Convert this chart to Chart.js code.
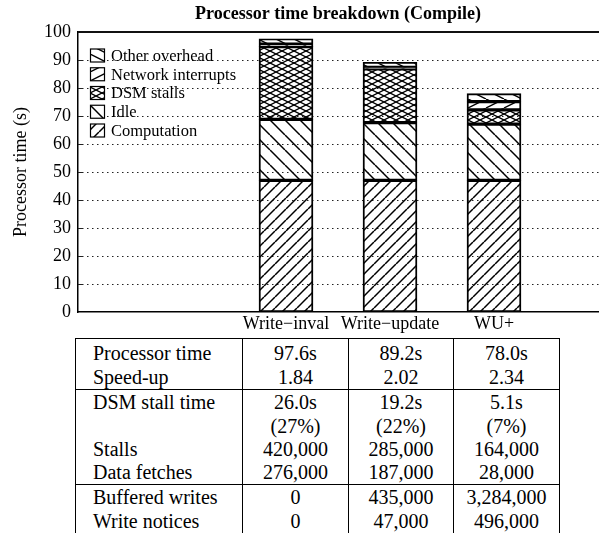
<!DOCTYPE html>
<html><head><meta charset="utf-8">
<script src="https://cdn.jsdelivr.net/npm/chart.js@4.4.0/dist/chart.umd.min.js"></script>
<style>
html,body{margin:0;padding:0;background:#fff;}
#wrap{position:relative;width:599px;height:542px;overflow:hidden;background:#fff;}
#c{position:absolute;left:0;top:0;}
#tbl{position:absolute;left:75px;top:338px;border-collapse:collapse;table-layout:fixed;width:484px;
 font-family:"Liberation Serif","Times New Roman",serif;font-size:20px;color:#000;}
#tbl td{padding:0;line-height:24px;text-align:center;border-left:1px solid #000;border-right:1px solid #000;white-space:nowrap;}
#tbl td.lab{text-align:left;padding-left:17px;}
#tbl tr.gstart td{border-top:1px solid #000;}
#tbl tr.first td{padding-top:2px;}
#tbl tr.tight td{line-height:23px;}
</style>
</head><body>
<div id="wrap">
<canvas id="c" width="599" height="338"></canvas>
<table id="tbl"><colgroup><col style="width:167px"><col style="width:106px"><col style="width:105px"><col style="width:106px"></colgroup><tbody id="tb"></tbody></table>
</div>
<script>
// ---- chart data ----
const categories = ['Write\u2212inval', 'Write\u2212update', 'WU+'];
const computation       = [47.0, 47.0, 47.0];
const idle              = [21.8, 20.6, 20.1];
const dsmStalls         = [26.0, 19.2, 5.1];
const networkInterrupts = [0.9, 0.6, 2.9];
const otherOverhead     = [1.9, 1.8, 2.9];
const yTicks = [0, 10, 20, 30, 40, 50, 60, 70, 80, 90, 100];

// ---- table data ----
const processorTime  = ['97.6s', '89.2s', '78.0s'];
const speedUp        = ['1.84', '2.02', '2.34'];
const dsmStallTime   = ['26.0s', '19.2s', '5.1s'];
const dsmStallPct    = ['(27%)', '(22%)', '(7%)'];
const stalls         = ['420,000', '285,000', '164,000'];
const dataFetches    = ['276,000', '187,000', '28,000'];
const bufferedWrites = ['0', '435,000', '3,284,000'];
const writeNotices   = ['0', '47,000', '496,000'];

const tableGroups = [
  [['Processor time', processorTime], ['Speed-up', speedUp]],
  [['DSM stall time', dsmStallTime], ['', dsmStallPct], ['Stalls', stalls], ['Data fetches', dataFetches]],
  [['Buffered writes', bufferedWrites], ['Write notices', writeNotices]]
];

// build table
const tb = document.getElementById('tb');
tableGroups.forEach((g, gi) => {
  g.forEach((row, ri) => {
    const tr = document.createElement('tr');
    const cls = [];
    if (ri === 0) cls.push('gstart');
    if (ri === 0 && gi === 0) cls.push('first');
    if (gi === 1 && ri >= 2) cls.push('tight');
    tr.className = cls.join(' ');
    const td0 = document.createElement('td'); td0.className = 'lab'; td0.textContent = row[0]; tr.appendChild(td0);
    row[1].forEach(v => { const td = document.createElement('td'); td.textContent = v; tr.appendChild(td); });
    tb.appendChild(tr);
  });
});

// ---- patterns ----
function makePattern(w, h, dirs, lw) {
  const c = document.createElement('canvas'); c.width = w; c.height = h;
  const g = c.getContext('2d');
  g.strokeStyle = '#000'; g.lineWidth = lw; g.lineCap = 'butt';
  dirs.forEach(d => {
    for (let k = -1; k <= 1; k++) {
      g.beginPath();
      if (d === '/') { g.moveTo(k * w, h); g.lineTo(k * w + w, 0); }
      else { g.moveTo(k * w, 0); g.lineTo(k * w + w, h); }
      g.stroke();
    }
  });
  return g.createPattern(c, 'repeat');
}
const patComp  = makePattern(11, 11, ['/'], 1.5);
const patIdle  = makePattern(15, 15, ['\\'], 1.5);
const patDsm   = makePattern(12, 6, ['/', '\\'], 1.3);
const patNet   = makePattern(18, 9, ['/'], 1.4);
const patOther = makePattern(18, 9, ['\\'], 1.4);

const FONT = '"Liberation Serif", "Times New Roman", serif';
Chart.defaults.font.family = FONT;
Chart.defaults.color = '#000';

const labels = ['', ''].concat(categories, ['']);
const pad = arr => [null, null].concat(arr, [null]);

function ds(label, data, pat) {
  return { label, data: pad(data), backgroundColor: pat, borderColor: '#000', borderWidth: 1.3,
           borderSkipped: false, barThickness: 54 };
}

// dotted horizontal grid lines + short inward ticks, drawn from the y scale
const gridPlugin = {
  id: 'dotGrid',
  beforeDatasetsDraw(chart) {
    const ys = chart.scales.y, ca = chart.chartArea, ctx = chart.ctx;
    ctx.save();
    ctx.strokeStyle = '#222'; ctx.lineWidth = 1;
    ys.ticks.forEach(t => {
      if (t.value === ys.min || t.value === ys.max) return;
      const y = Math.round(ys.getPixelForValue(t.value)) + 0.5;
      ctx.setLineDash([1.5, 3.5]);
      ctx.beginPath(); ctx.moveTo(ca.left + 4, y); ctx.lineTo(chart.width, y); ctx.stroke();
      ctx.setLineDash([]);
      ctx.beginPath(); ctx.moveTo(ca.left, y); ctx.lineTo(ca.left + 4, y); ctx.stroke();
    });
    ctx.restore();
  }
};

const legendPlugin = {
  id: 'inLegend',
  afterDraw(chart) {
    const ctx = chart.ctx;
    const sets = chart.data.datasets.slice().reverse();
    ctx.save();
    ctx.font = '16.5px ' + FONT;
    ctx.textBaseline = 'middle';
    ctx.textAlign = 'left';
    sets.forEach((d, i) => {
      const y = 55.5 + i * 18.75;
      ctx.fillStyle = '#fff';
      ctx.fillRect(90.5, y - 6.5, 14, 13);
      ctx.fillStyle = d.backgroundColor;
      ctx.fillRect(90.5, y - 6.5, 14, 13);
      ctx.strokeStyle = '#000'; ctx.lineWidth = 1.2;
      ctx.strokeRect(90.5, y - 6.5, 14, 13);
      ctx.fillStyle = '#000';
      ctx.fillText(d.label, 111, y + 1);
    });
    ctx.restore();
  }
};

const topLinePlugin = {
  id: 'topLine',
  afterDraw(chart) {
    const y = chart.scales.y.getPixelForValue(yTicks[yTicks.length - 1]);
    const ctx = chart.ctx;
    ctx.save();
    ctx.strokeStyle = '#111'; ctx.lineWidth = 2;
    ctx.beginPath(); ctx.moveTo(chart.chartArea.left, y); ctx.lineTo(chart.width, y); ctx.stroke();
    ctx.restore();
  }
};

new Chart(document.getElementById('c'), {
  type: 'bar',
  data: {
    labels,
    datasets: [
      ds('Computation', computation, patComp),
      ds('Idle', idle, patIdle),
      ds('DSM stalls', dsmStalls, patDsm),
      ds('Network interrupts', networkInterrupts, patNet),
      ds('Other overhead', otherOverhead, patOther)
    ]
  },
  options: {
    responsive: false,
    devicePixelRatio: 1,
    animation: false,
    layout: { padding: { left: 0, right: -4, top: 0, bottom: 0 } },
    plugins: {
      legend: { display: false },
      tooltip: { enabled: false },
      title: {
        display: true, text: 'Processor time breakdown (Compile)', fullSize: false,
        font: { size: 18, weight: 'bold', family: FONT }, color: '#000',
        padding: { top: 4, bottom: 6.4 }
      }
    },
    scales: {
      x: {
        type: 'category', stacked: true, offset: false,
        grid: { display: false, drawTicks: false },
        border: { display: true, color: '#000', width: 1.5 },
        ticks: { font: { size: 18 }, padding: 1, autoSkip: false, maxRotation: 0, color: '#000' },
        afterFit(s) { s.height = 26; }
      },
      y: {
        stacked: true, min: yTicks[0], max: yTicks[yTicks.length - 1],
        afterBuildTicks(s) { s.ticks = yTicks.map(v => ({ value: v })); },
        ticks: { font: { size: 18 }, padding: 7, color: '#000' },
        grid: { display: false, drawTicks: false },
        border: { display: true, color: '#000', width: 1.5 },
        title: { display: true, text: 'Processor time (s)', font: { size: 18 }, color: '#000', padding: { top: 10, bottom: 0 } },
        afterFit(s) { s.width = 78; }
      }
    }
  },
  plugins: [gridPlugin, legendPlugin, topLinePlugin]
});
</script>
</body></html>
